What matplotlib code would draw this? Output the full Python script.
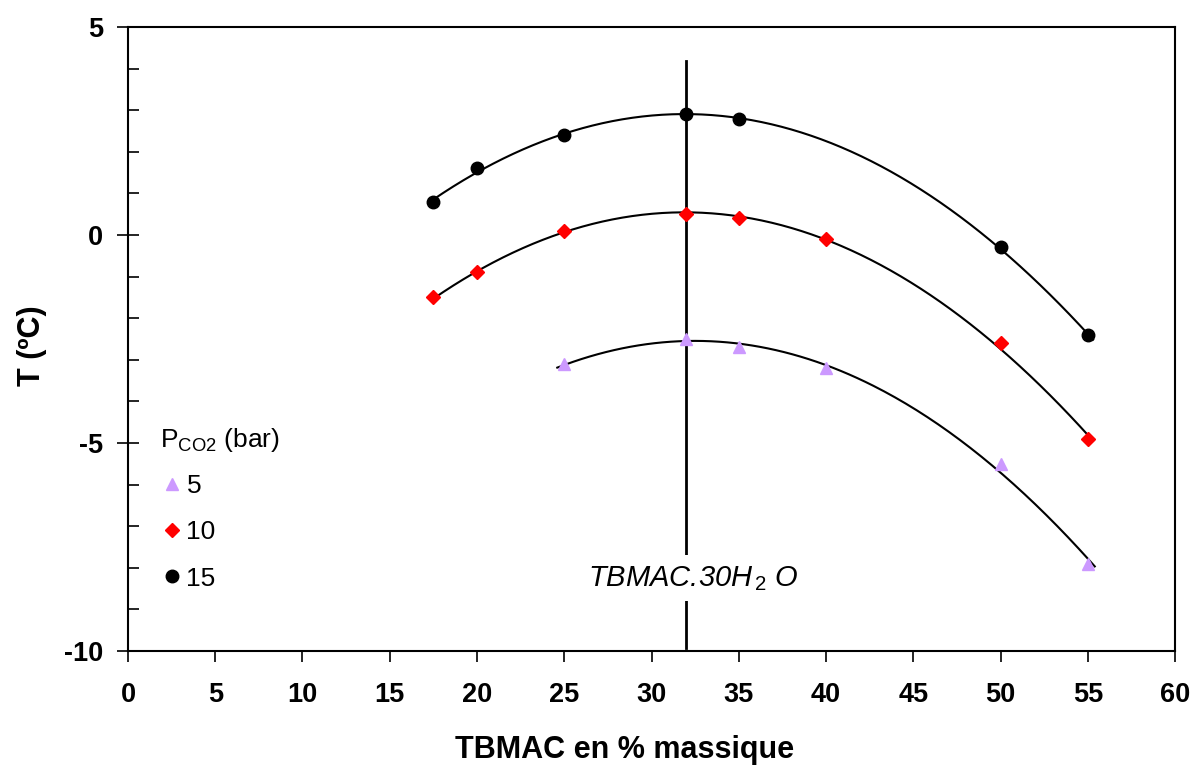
import numpy as np
import matplotlib
matplotlib.use("Agg")
import matplotlib.pyplot as plt
from matplotlib.ticker import MultipleLocator

plt.rcParams['font.family'] = ['Liberation Sans', 'DejaVu Sans']
plt.rcParams['mathtext.fontset'] = 'custom'
plt.rcParams['mathtext.rm'] = 'Liberation Sans'
plt.rcParams['mathtext.it'] = 'Liberation Sans:italic'
plt.rcParams['axes.unicode_minus'] = False

# Data
x_5 = [25, 32, 35, 40, 50, 55]
t_5 = [-3.1, -2.5, -2.7, -3.2, -5.5, -7.9]
x_10 = [17.5, 20, 25, 32, 35, 40, 50, 55]
t_10 = [-1.5, -0.9, 0.1, 0.5, 0.4, -0.1, -2.6, -4.9]
x_15 = [17.5, 20, 25, 32, 35, 50, 55]
t_15 = [0.8, 1.6, 2.4, 2.9, 2.8, -0.3, -2.4]
labels = ["5", "10", "15"]
hydrate_x = 32
hydrate_label = "TBMAC.30H$_{\\,2}$ O"

fig = plt.figure(figsize=(11.95, 7.69), dpi=100)
ax = fig.add_axes([0.1071, 0.1534, 0.8762, 0.8115])

# trend curves (quadratic fits)
ranges = [(24.6, 55.4), (17.5, 55.3), (17.5, 55.3)]
for (xs, ts), (a, b) in zip([(x_5, t_5), (x_10, t_10), (x_15, t_15)], ranges):
    c = np.polyfit(xs, ts, 2)
    xx = np.linspace(a, b, 200)
    ax.plot(xx, np.polyval(c, xx), color='black', lw=1.5, zorder=2)

h5, = ax.plot(x_5, t_5, ls='none', marker='^', ms=9, color='#CC99FF', mec='#CC99FF', zorder=3)
h10, = ax.plot(x_10, t_10, ls='none', marker='D', ms=7, color='#FF0000', mec='#FF0000', zorder=3)
h15, = ax.plot(x_15, t_15, ls='none', marker='o', ms=9, color='black', zorder=3)

ax.plot([hydrate_x, hydrate_x], [4.18, -9.93], color='black', lw=2, zorder=1)
ax.text(hydrate_x + 0.4, -8.25, hydrate_label, ha='center', va='center', fontsize=21, style='italic',
        bbox=dict(facecolor='white', edgecolor='none', pad=6), zorder=4)

ax.set_xlim(0, 60)
ax.set_ylim(-10, 5)
ax.xaxis.set_major_locator(MultipleLocator(5))
ax.yaxis.set_major_locator(MultipleLocator(5))
ax.yaxis.set_minor_locator(MultipleLocator(1))
ax.tick_params(axis='x', direction='out', length=8, width=1.2, labelsize=19.5, pad=14)
ax.tick_params(axis='y', which='major', direction='inout', length=16, width=1.2, labelsize=19.5, pad=10)
ax.tick_params(axis='y', which='minor', direction='in', length=8, width=1.2)
for lab in ax.get_xticklabels() + ax.get_yticklabels():
    lab.set_fontweight('bold')
for s in ax.spines.values():
    s.set_linewidth(1.5)

ax.set_xlabel("TBMAC en % massique", fontsize=22, fontweight='bold')
ax.xaxis.set_label_coords(0.474, -0.135)
ax.set_ylabel("T (ºC)", fontsize=22, fontweight='bold')
ax.yaxis.set_label_coords(-0.077, 0.49)

leg = ax.legend([h5, h10, h15], labels, title=r"P$_{\mathregular{CO2}}$ (bar)",
                loc='upper left', bbox_to_anchor=(0.008, 0.398), frameon=False,
                fontsize=19, title_fontsize=19, labelspacing=0.85, handletextpad=0.1,
                handlelength=0.9, alignment='left')
leg._legend_box.sep = 14

fig.savefig("out.png", dpi=100)
